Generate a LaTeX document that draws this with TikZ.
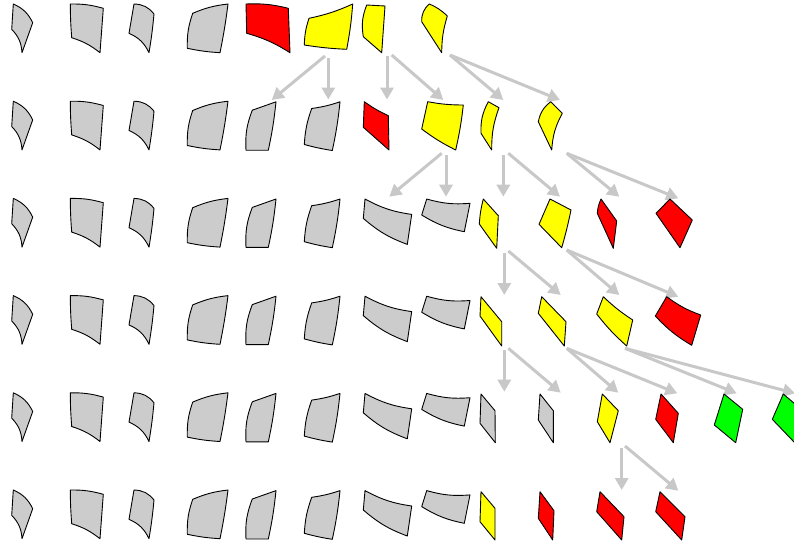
\documentclass[tikz,border=0pt]{standalone}
\usetikzlibrary{arrows.meta}
\definecolor{shgray}{RGB}{204,204,204}
\definecolor{argray}{RGB}{200,200,200}
\definecolor{pred}{RGB}{255,0,0}
\definecolor{pyel}{RGB}{255,255,0}
\definecolor{pgrn}{RGB}{0,255,0}
\newcommand\pc[9]{\draw[piecestyle,fill=#1] (#2) to[bend left=#6] (#3) to[bend left=#7] (#4) to[bend left=#8] (#5) to[bend left=#9] (#2) -- cycle;}
\tikzset{
  piecestyle/.style={draw=black,line width=0.9pt,line join=round},
  arr/.style={draw=argray,line width=3pt,-{Triangle[length=12pt,width=13pt]},shorten <=0pt}
}
\begin{document}
\begin{tikzpicture}[x=1pt,y=-1pt]
\useasboundingbox (0,0) rectangle (794,547);
\clip (0,0) rectangle (794,547);
% arrow end points
\coordinate (s1) at (325,56);      \coordinate (e1) at (271.7,100);
\coordinate (s2) at (328.3,58);    \coordinate (e2) at (328.3,99.5);
\coordinate (s3) at (387,56);      \coordinate (e3) at (387,99.5);
\coordinate (s4) at (391.7,55);    \coordinate (e4) at (443.3,100);
\coordinate (s5) at (450,55);      \coordinate (e5) at (503.3,100);
                                   \coordinate (e6) at (560,100);
\coordinate (s7) at (441.7,153.3); \coordinate (e7) at (389.3,196.7);
\coordinate (s8) at (446,155);     \coordinate (e8) at (446,196.7);
\coordinate (s9) at (503.3,155);   \coordinate (e9) at (503.3,196.7);
\coordinate (s10) at (508.3,153.3);\coordinate (e10) at (560,196.7);
\coordinate (s11) at (566.7,153.3);\coordinate (e11) at (619.3,196.7);
                                   \coordinate (e12) at (678.3,198.3);
\coordinate (s13) at (504.3,253);  \coordinate (e13) at (504.3,295);
\coordinate (s14) at (508.3,251);  \coordinate (e14) at (560.7,295);
\coordinate (s15) at (566.7,250);  \coordinate (e15) at (619.3,295);
                                   \coordinate (e16) at (678.3,296.7);
\coordinate (s17) at (504.3,350);  \coordinate (e17) at (504.3,391.7);
\coordinate (s18) at (508.3,348.3);\coordinate (e18) at (560.7,392.7);
\coordinate (s19) at (566.7,348.3);\coordinate (e19) at (618.3,392.7);
                                   \coordinate (e20) at (677.3,393.3);
\coordinate (s21) at (625,348.3);  \coordinate (e21) at (736.7,393.3);
                                   \coordinate (e22) at (795,393.3);
\coordinate (s23) at (621.7,448.3);\coordinate (e23) at (621.7,490);
\coordinate (s24) at (625,446);    \coordinate (e24) at (678.3,490.7);
% arrows
\draw[arr] (s1) -- (e1);
\draw[arr] (s2) -- (e2);
\draw[arr] (s3) -- (e3);
\draw[arr] (s4) -- (e4);
\draw[arr] (s5) -- (e5);
\draw[arr] (s5) -- (e6);
\draw[arr] (s7) -- (e7);
\draw[arr] (s8) -- (e8);
\draw[arr] (s9) -- (e9);
\draw[arr] (s10) -- (e10);
\draw[arr] (s11) -- (e11);
\draw[arr] (s11) -- (e12);
\draw[arr] (s13) -- (e13);
\draw[arr] (s14) -- (e14);
\draw[arr] (s15) -- (e15);
\draw[arr] (s15) -- (e16);
\draw[arr] (s17) -- (e17);
\draw[arr] (s18) -- (e18);
\draw[arr] (s19) -- (e19);
\draw[arr] (s19) -- (e20);
\draw[arr] (s21) -- (e21);
\draw[arr] (s21) -- (e22);
\draw[arr] (s23) -- (e23);
\draw[arr] (s24) -- (e24);
% repeated grey pieces
\foreach \r in {0,...,5}{
  \begin{scope}[shift={(0,\r*97.2)}]
    \pc{shgray}{13.3,4}{32.7,22.7}{22,52.7}{11.7,29.3}{20}{0}{-20}{0}
    \pc{shgray}{70.3,4}{103.3,8.3}{100,52.7}{71.7,37.7}{8}{0}{-10}{2}
    \pc{shgray}{134,4}{154,14}{149,52.7}{129,33.3}{25}{2}{-20}{0}
    \pc{shgray}{192.7,13.3}{228,4}{220,52.7}{187.3,48.3}{8}{2}{4}{10}
  \end{scope}
}
\foreach \r in {1,...,5}{
  \begin{scope}[shift={(0,\r*97.2)}]
    \pc{shgray}{252.3,13}{276,4.6}{268.3,53}{246,53}{0}{3}{0}{12}
    \pc{shgray}{311.7,11.3}{340,4.6}{332.3,53.3}{304.3,47.3}{-5}{3}{3}{8}
  \end{scope}
}
\foreach \r in {2,...,5}{
  \begin{scope}[shift={(0,\r*97.2)}]
    \pc{shgray}{365,4.6}{411.7,20}{407.3,50}{363.3,24}{-10}{0}{10}{0}
    \pc{shgray}{426.7,4.6}{470,8.9}{464.3,37.3}{421.7,20.6}{-10}{0}{10}{0}
  \end{scope}
}
% row 1
\pc{pred}{246,4}{288.3,8.3}{290,52.7}{246.7,33.3}{8}{0}{-8}{0}
\pc{pyel}{309,18.3}{352.7,4}{346.7,49.3}{304.3,45}{-6}{3}{3}{8}
\pc{pyel}{366.7,5}{385,6}{381.7,52.7}{363.3,36.7}{0}{0}{0}{15}
\pc{pyel}{429.3,4}{447.3,16}{441.7,52.7}{421.7,21.7}{10}{-8}{0}{25}
% row 2
\pc{pred}{364.3,101.7}{388.3,115.7}{389,150}{363.3,127.3}{-5}{0}{0}{0}
\pc{pyel}{427.7,101.7}{463.3,105}{455.7,150}{421.7,129}{-5}{3}{5}{0}
\pc{pyel}{488.3,101.7}{499,107.7}{491.7,150}{481,133.3}{0}{-10}{0}{15}
\pc{pyel}{550.7,101.7}{562.3,113.3}{551.7,150}{538.3,121.7}{0}{-12}{0}{20}
% row 3
\pc{pyel}{483.3,199}{498.3,215.7}{496.7,248.3}{479.3,224}{0}{0}{0}{5}
\pc{pyel}{550,199}{571,210}{561.7,247.7}{539,224.3}{0}{2}{0}{0}
\pc{pred}{601,199}{616.7,221}{613.3,248.3}{597.3,213.3}{0}{0}{0}{10}
\pc{pred}{670,199}{692.3,220}{680,247.7}{656,213.3}{0}{0}{0}{0}
% row 4
\pc{pyel}{481,296.7}{501.7,321.7}{501.7,346}{480,316}{0}{0}{0}{0}
\pc{pyel}{541.7,296.7}{566,321.7}{564.3,346}{538.3,313.3}{0}{0}{0}{0}
\pc{pyel}{603.3,296.7}{632.7,320}{626.7,346}{596.7,314}{-5}{0}{5}{0}
\pc{pred}{666.7,296.7}{700.7,315}{691.7,345.3}{655.3,316}{-8}{0}{8}{0}
% row 5
\pc{shgray}{481,394}{495,410.7}{495.3,442.7}{480,423.3}{0}{0}{0}{0}
\pc{shgray}{540,394}{553.3,410.7}{553.3,442.7}{538.3,420}{0}{0}{0}{0}
\pc{pyel}{602.3,394}{618.3,410.7}{610,442.7}{597.3,421.7}{0}{0}{0}{0}
\pc{pred}{661,394}{678.3,413.3}{673.3,442.7}{655.7,419.3}{0}{0}{0}{0}
\pc{pgrn}{724,394}{742.7,409.3}{735.7,442.7}{714.3,425}{0}{0}{0}{0}
\pc{pgrn}{783.3,394}{802,410}{795,443}{772.3,419.3}{0}{0}{0}{0}
% row 6
\pc{pyel}{481,491.7}{495,508.3}{495,540}{480,521.7}{0}{0}{0}{0}
\pc{pred}{540,491.7}{554,510.7}{552.7,540}{538.3,518.3}{0}{0}{0}{0}
\pc{pred}{600,491.7}{624,516.7}{621.7,540}{596.7,511.7}{0}{0}{0}{0}
\pc{pred}{660,491.7}{685,516.7}{681.7,540}{655.7,511.7}{0}{0}{0}{0}
\end{tikzpicture}
\end{document}
